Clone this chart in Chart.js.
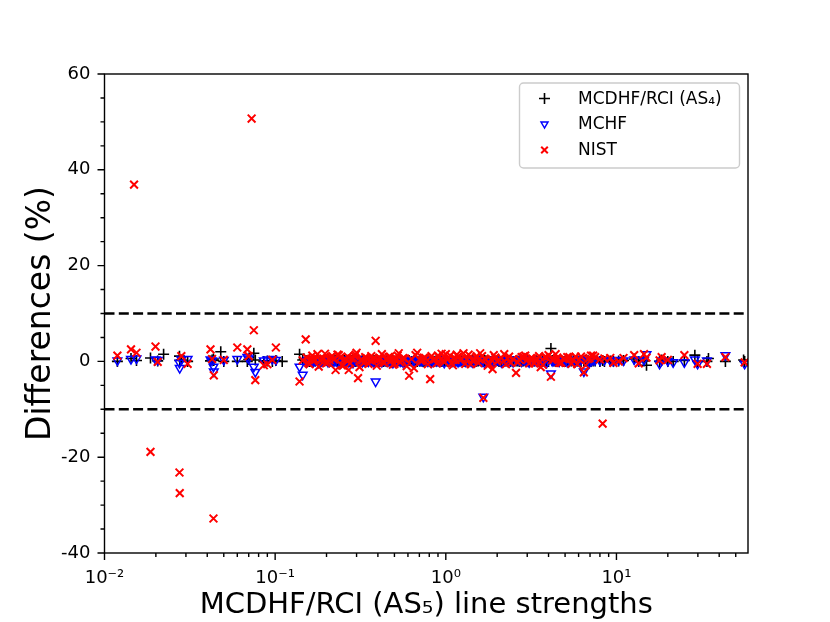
<!DOCTYPE html>
<html><head><meta charset="utf-8">
<script src="https://cdn.jsdelivr.net/npm/chart.js@4.4.0/dist/chart.umd.min.js"></script>
<style>html,body{margin:0;padding:0;background:#fff}</style>
</head><body>
<canvas id="c" width="830" height="622"></canvas>
<script>
// ---- data ----
const strengths = [0.0119,0.0143,0.0149,0.0154,0.0186,0.0199,0.0205,0.0222,0.0275,0.0276,0.0282,0.0307,0.0418,0.0427,0.0435,0.0437,0.0480,0.0500,0.0600,0.0687,0.0700,0.0728,0.0750,0.0765,0.0858,0.0900,0.0963,0.101,0.110,0.139,
0.145,0.151,0.156,0.162,0.168,0.177,0.184,0.192,0.199,0.208,
0.216,0.226,0.232,0.240,0.250,0.262,0.270,0.280,0.292,0.300,
0.306,0.318,0.330,0.345,0.360,0.372,0.388,0.400,0.415,0.430,
0.445,0.462,0.480,0.500,0.515,0.530,0.550,0.575,0.610,0.650,
0.680,0.700,0.730,0.760,0.810,0.840,0.870,0.900,0.930,0.960,
1.00,1.04,1.08,1.12,1.16,1.21,1.27,1.33,1.40,1.47,
1.52,1.59,1.66,1.72,1.80,1.88,1.95,2.05,2.20,2.30,
2.40,2.58,2.70,2.85,3.00,3.15,3.30,3.45,3.60,3.80,
4.00,4.13,4.30,4.50,4.75,5.00,5.30,5.60,5.90,6.20,
6.44,6.80,7.10,7.50,8.00,8.30,8.50,9.20,9.60,10.3,
11.0,12.7,13.5,14.5,15.0,17.9,18.4,20.0,21.5,25.0,
28.8,29.9,33.9,34.6,43.5,55.6,56.4,
0.153,0.159,0.165,0.172,0.180,0.188,0.196,0.204,0.212,0.221,
0.236,0.245,0.256,0.266,0.275,0.286,0.296,0.312,0.324,0.337,
0.352,0.366,0.380,0.394,0.408,0.422,0.437,0.453,0.471,0.490,
0.507,0.522,0.540,0.562,0.590,0.630,0.665,0.715,0.745,0.785,
0.825,0.855,0.885,0.915,0.945,0.980,1.02,1.06,1.10,1.14,
1.18,1.24,1.30,1.36,1.43,1.50,1.55,1.63,1.69,1.76,
1.84,1.91,2.00,2.12,2.25,2.35,2.48,2.64,2.78,2.92,
3.08,3.22,3.38,3.52,3.70,3.90,4.20,4.40,4.62,4.88,
5.15,5.45,5.75,6.05,6.60,6.95,7.30];

const diffAS4 = [0,0.6,null,0.2,0.7,null,0.1,1.5,1.1,0.2,0.3,0,0.1,0.3,0.5,0.2,2.0,0,0,0,0.4,null,1.7,0.3,0,0.1,0,0.2,0,1.5,
0.3,0.2,0.1,0,0.1,0.2,0,0.1,0.2,0,
0.1,0.3,0,0.1,0.2,0,0.1,0.2,0,0.1,
0.2,0,0.1,0,0.2,0.1,0,0.1,0.2,0,
0.1,0.2,0,0.1,0,0.2,0.1,0,0.2,0.1,
0,0.1,0,0.2,0.1,0,0.1,0.2,0,0.1,
0.2,0,0.1,0,0.2,0.1,0,0.1,0.2,0,
0.1,0.2,0,0.1,0,0.2,0.1,0,0.1,0.2,
0,0.1,0,0.1,0.2,0,0.1,0,0.2,0.1,
0,2.7,0.1,0,0.2,0,0.1,0.2,0.1,0,
0.1,0.2,0,0.1,0,0.2,0,0.1,0,0.1,
0.2,0.5,0,0.1,-0.8,0,0.3,0,0,0.2,
1.3,0,0,0.6,0,0.3,0,
0.1,0,0.2,0.1,0,0.1,0.2,0,0.1,0.2,
0,0.1,0.2,0,0.1,0.3,0,0.1,0.2,0,
0.1,0,0.2,0.1,0,0.2,0.1,0,0.1,0.2,
0,0.1,0.2,0,0.1,0,0.2,0.1,0,0.1,
0.2,0,0.1,0.2,0,0.1,0,0.2,0.1,0,
0.1,0.2,0,0.1,0.2,0,0.1,0,0.2,0.1,
0,0.1,0.2,0,0.1,0.2,0,0.1,0,0.2,
0.1,0,0.2,0.1,0,0.1,0.2,0,0.1,0,
0.2,0.1,0,0.1,0.2,0,0.1];

const diffMCHF = [0.2,0.5,null,0.6,null,0.4,0.3,null,-0.3,-1.4,0.4,0.5,0.4,0.2,-1.1,-2.1,null,0.3,0.5,0.9,0.6,null,-1.1,-2.2,0.2,0.4,0.5,0.3,null,-1.1,
-2.8,0.1,0.3,0.2,0,0.3,-0.2,0.1,0.3,0,
0.4,0.2,-0.2,0.1,0.3,0.2,-0.1,0.3,0.2,0.4,
0.1,0.3,0.2,0.1,0.3,0.2,-4.2,0.2,0.1,0.3,
0.2,0.1,0.3,0.2,0.4,0.3,0.2,0.1,0.3,0.2,
0.4,0.2,0.1,0.3,0.2,0.1,0.3,0.2,0.1,0.3,
0.4,0.2,0.1,0.3,0.2,0.1,0.3,0.2,0.1,0.3,
0.4,0.2,-7.4,0.3,0.1,0.2,0.3,0.2,0.3,0.1,
0.2,0.3,0.2,0.4,0.1,0.3,0.2,0.1,0.3,0.2,
0.4,-2.5,0.2,0.1,0.3,0.2,0.1,0.3,0.2,0.4,
-2.1,0.3,0.1,0.3,0.2,null,0.3,0.2,0.1,0.3,
0.2,0.4,0.2,0.3,1.5,-0.5,0.2,0.1,-0.2,-0.2,
0.4,-0.5,0.2,null,1.3,null,-0.5,
-0.2,0.3,0,0.2,-0.3,0.1,0.4,-0.1,0.2,0,
0.3,-0.2,0.1,0.4,0,-0.3,0.2,0.1,-0.1,0.3,
0,0.2,-0.2,0.4,0.1,-0.1,0.3,0,0.2,-0.3,
0.1,0.4,0,-0.2,0.3,0.1,-0.1,0.2,0.4,0,
-0.2,0.3,0.1,0,0.2,-0.3,0.4,0.1,0,0.2,
-0.1,0.3,0,0.2,-0.2,0.1,0.4,0,-0.3,0.2,
0.1,0,0.3,-0.2,0.2,0.1,-0.1,0.4,0,0.2,
-0.2,0.3,0.1,0,0.2,-0.3,0.1,0.4,0,0.2,
-0.1,0.3,0,0.2,0.1,-0.2,0.3];

const diffNIST = [1.2,2.5,36.9,1.8,-18.9,3.1,-0.1,null,-23.2,-27.5,1.1,-0.5,2.5,0.5,-32.8,-2.9,null,0.3,2.9,2.5,1.1,50.7,6.5,-3.9,-0.8,-0.6,0.3,2.9,null,-4.2,
0.2,4.6,-0.3,0.5,0.4,1.5,0.2,0.6,-0.4,0.3,
1.1,-1.8,1.4,0.8,-0.9,0.2,-1.8,0.6,1.1,1.8,
-3.5,0.4,-0.3,0.7,0.2,0.5,4.3,0.3,0.6,-0.2,
0.4,0.9,0.2,-0.5,0.5,1.7,0.3,0.6,-3.0,-1.4,
1.8,0.4,0.2,0.7,-3.7,0.3,0.5,1.2,0.4,0.2,
1.5,0.6,-0.4,0.8,1.4,0.3,1.7,0.5,-0.6,0.4,
1.1,1.7,-7.6,0.4,-0.5,-1.6,0.8,0.3,1.5,0.6,
-0.3,-2.4,0.4,1.0,0.3,0.7,-0.4,0.5,-1.2,0.9,
1.3,-3.2,0.4,0.8,-0.3,0.5,0.9,0.3,-0.6,1.0,
-2.3,0.5,1.2,0.9,0.4,-13.0,0.6,0.7,-0.3,0,
0.7,1.3,-0.4,1.5,0.8,0.2,0.9,0.3,null,1.3,
null,-0.5,-0.5,null,0.9,null,-0.2,
0.8,-0.6,1.2,0.3,-1.1,0.6,1.6,-0.2,0.9,0.4,
1.3,-0.8,0.5,1.0,-0.4,0.7,1.4,-1.2,0.2,0.9,
-0.5,1.1,0.4,-0.9,0.8,1.5,-0.3,0.6,1.0,-0.7,
0.3,1.2,-0.2,0.7,-1.0,0.5,1.3,0.1,0.8,-0.6,
1.1,0.4,-0.4,0.9,1.6,-0.1,0.6,1.2,-0.8,0.3,
1.0,0.5,-0.5,1.4,0.2,0.8,-0.3,1.1,0.6,-0.9,
0.4,1.3,0.0,0.7,-0.6,1.0,0.5,-0.2,0.9,1.2,
-0.4,0.6,0.2,1.1,-0.7,0.8,0.3,1.5,-0.3,0.5,
0.9,-0.5,1.0,0.4,-0.8,0.7,1.2];

const seriesNames = ['MCDHF/RCI (AS\u2084)', 'MCHF', 'NIST'];
const limitLines = [10, -10];
const xRange = [0.01, 59];
const yRange = [-40, 60];
const xTickValues = [0.01, 0.1, 1, 10];
const xTickLabels = ['10\u207B\u00B2', '10\u207B\u00B9', '10\u2070', '10\u00B9'];
const yTickValues = [-40, -20, 0, 20, 40, 60];
const yTickLabels = ['-40', '-20', '0', '20', '40', '60'];
const xTitle = 'MCDHF/RCI (AS\u2085) line strengths';
const yTitle = 'Differences (%)';

// ---- build ----
const FONT = 'DejaVu Sans';
const toPoints = arr => strengths.map((x, i) => ({x: x, y: arr[i]})).filter(p => p.y !== null && p.y !== undefined);

const datasets = limitLines.map(v => ({
  type: 'line', label: '_lim', data: [{x: xRange[0], y: v}, {x: xRange[1], y: v}],
  borderColor: '#000', borderWidth: 2.6, borderDash: [10, 4.3], pointRadius: 0, fill: false, order: 5
}));
datasets.push({label: seriesNames[0], data: toPoints(diffAS4), pointStyle: 'cross', pointRadius: 5.5,
  borderColor: '#000', backgroundColor: '#000', pointBorderWidth: 1.6, order: 3});
datasets.push({label: seriesNames[1], data: toPoints(diffMCHF), pointStyle: 'triangle', rotation: 180, pointRadius: 5,
  borderColor: '#0000ff', backgroundColor: 'rgba(0,0,0,0)', pointBorderWidth: 1.5, order: 2});
datasets.push({label: seriesNames[2], data: toPoints(diffNIST), pointStyle: 'crossRot', pointRadius: 5.5,
  borderColor: '#ff0000', backgroundColor: '#ff0000', pointBorderWidth: 2, order: 1});

const decor = {
  id: 'decor',
  afterDraw(chart) {
    const ctx = chart.ctx, a = chart.chartArea, xs = chart.scales.x, ys = chart.scales.y;
    ctx.save();
    ctx.strokeStyle = '#000'; ctx.lineWidth = 1.4;
    // ticks
    ctx.beginPath();
    for (let e = -2; e <= 1; e++) {
      for (let m = 1; m <= 9; m++) {
        const v = m * Math.pow(10, e);
        if (v < xRange[0] - 1e-9 || v > xRange[1]) continue;
        const px = xs.getPixelForValue(v);
        const len = m === 1 ? 7 : 4;
        ctx.moveTo(px, a.bottom); ctx.lineTo(px, a.bottom + len);
      }
    }
    for (let v = yRange[0]; v <= yRange[1]; v += 5) {
      const py = ys.getPixelForValue(v);
      const len = (v % 20 === 0) ? 7 : 4;
      ctx.moveTo(a.left, py); ctx.lineTo(a.left - len, py);
    }
    ctx.stroke();
    // frame
    ctx.strokeRect(a.left, a.top, a.right - a.left, a.bottom - a.top);
    // titles
    ctx.fillStyle = '#000';
    ctx.font = '29px "' + FONT + '"';
    ctx.textAlign = 'center'; ctx.textBaseline = 'alphabetic';
    ctx.fillText(xTitle, (a.left + a.right) / 2, 613);
    ctx.save();
    ctx.font = '33px "' + FONT + '"';
    ctx.translate(50, (a.top + a.bottom) / 2);
    ctx.rotate(-Math.PI / 2);
    ctx.fillText(yTitle, 0, 0);
    ctx.restore();
    // legend
    const bx = 519.5, by = 83, bw = 220, bh = 85, r = 4;
    ctx.beginPath();
    ctx.moveTo(bx + r, by); ctx.lineTo(bx + bw - r, by); ctx.arcTo(bx + bw, by, bx + bw, by + r, r);
    ctx.lineTo(bx + bw, by + bh - r); ctx.arcTo(bx + bw, by + bh, bx + bw - r, by + bh, r);
    ctx.lineTo(bx + r, by + bh); ctx.arcTo(bx, by + bh, bx, by + bh - r, r);
    ctx.lineTo(bx, by + r); ctx.arcTo(bx, by, bx + r, by, r); ctx.closePath();
    ctx.fillStyle = 'rgba(255,255,255,0.8)'; ctx.fill();
    ctx.strokeStyle = '#cccccc'; ctx.lineWidth = 1.4; ctx.stroke();
    const rows = [98.5, 124, 150];
    const mx = 544.5;
    ctx.strokeStyle = '#000'; ctx.lineWidth = 1.6;
    ctx.beginPath(); ctx.moveTo(mx - 5.5, rows[0]); ctx.lineTo(mx + 5.5, rows[0]);
    ctx.moveTo(mx, rows[0] - 5.5); ctx.lineTo(mx, rows[0] + 5.5); ctx.stroke();
    ctx.strokeStyle = '#0000ff'; ctx.lineWidth = 1.5;
    const tr = 4;
    ctx.beginPath();
    ctx.moveTo(mx, rows[1] + tr);
    ctx.lineTo(mx - tr * 0.866, rows[1] - tr * 0.5);
    ctx.lineTo(mx + tr * 0.866, rows[1] - tr * 0.5);
    ctx.closePath(); ctx.stroke();
    ctx.strokeStyle = '#ff0000'; ctx.lineWidth = 2;
    const xr = 3.3;
    ctx.beginPath(); ctx.moveTo(mx - xr, rows[2] - xr); ctx.lineTo(mx + xr, rows[2] + xr);
    ctx.moveTo(mx - xr, rows[2] + xr); ctx.lineTo(mx + xr, rows[2] - xr); ctx.stroke();
    ctx.fillStyle = '#000';
    ctx.font = '17px "' + FONT + '"';
    ctx.textAlign = 'left'; ctx.textBaseline = 'middle';
    seriesNames.forEach((n, i) => ctx.fillText(n, 578, rows[i] + 1));
    ctx.restore();
  }
};

new Chart(document.getElementById('c'), {
  type: 'scatter',
  data: {datasets: datasets},
  options: {
    responsive: false, animation: false, events: [],
    layout: {padding: {left: 0, top: 74, right: 82, bottom: 0}},
    plugins: {legend: {display: false}, tooltip: {enabled: false}},
    scales: {
      x: {
        type: 'logarithmic', position: 'bottom', min: xRange[0], max: xRange[1],
        afterFit: s => { s.height = 69; },
        afterBuildTicks: s => { s.ticks = xTickValues.map(v => ({value: v})); },
        ticks: {callback: (v, i) => xTickLabels[i], font: {family: FONT, size: 18}, color: '#000',
                padding: 7, maxRotation: 0, autoSkip: false},
        grid: {display: false}, border: {display: false}
      },
      y: {
        type: 'linear', position: 'left', min: yRange[0], max: yRange[1],
        afterFit: s => { s.width = 104.5; },
        afterBuildTicks: s => { s.ticks = yTickValues.map(v => ({value: v})); },
        ticks: {callback: (v, i) => yTickLabels[i], font: {family: FONT, size: 18}, color: '#000',
                padding: 6, autoSkip: false},
        grid: {display: false}, border: {display: false}
      }
    }
  },
  plugins: [decor]
});
</script>
</body></html>
